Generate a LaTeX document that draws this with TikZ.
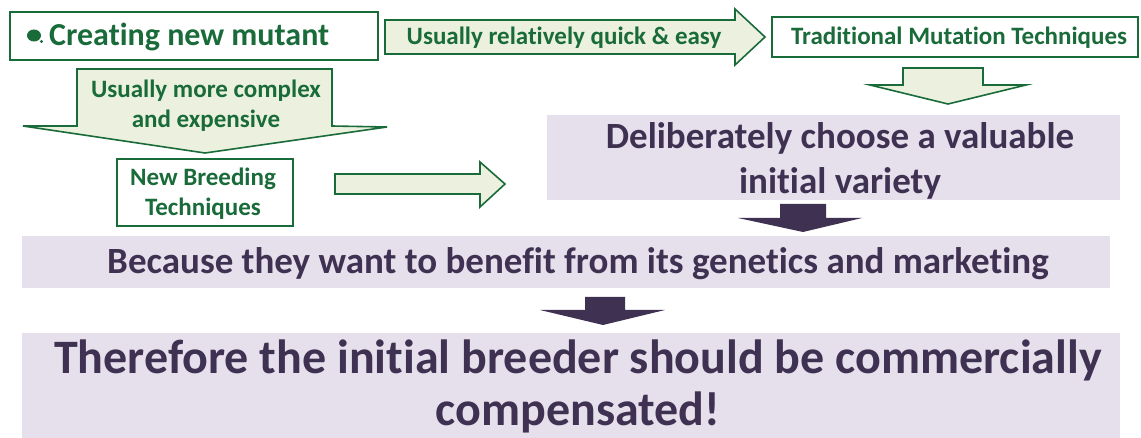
\documentclass[tikz,border=0pt]{standalone}
\usepackage{fontspec}
\setmainfont{Carlito}[Ligatures=NoCommon]
\definecolor{grn}{HTML}{1A6B3A}
\definecolor{lgrn}{HTML}{EBF1DE}
\definecolor{lav}{HTML}{E5E0EC}
\definecolor{dpur}{HTML}{3F3151}
\begin{document}
\begin{tikzpicture}[x=1pt,y=-1pt,
  gbox/.style={draw=grn,line width=1.3pt,fill=white},
  garrow/.style={draw=grn,line width=1.6pt,fill=lgrn,line join=miter},
  parrow/.style={fill=dpur},
  gtxt/.style={text=grn,font=\bfseries\fontsize{25}{30}\selectfont,align=center,inner sep=0pt},
  ptxt/.style={text=dpur,font=\bfseries,align=center,inner sep=0pt}]
\useasboundingbox (0,0) rectangle (1141,438);
% top-left box
\draw[gbox] (10,12) rectangle (378,60);
\fill[grn] (34,35.5) ellipse (7 and 6);
\fill[grn] (41.5,41.5) circle (1.7);
\node[gtxt,anchor=west,font=\bfseries\fontsize{32}{34}\selectfont] (cnm) at (49,37) {Creating new mutant};
% right arrow quick & easy
\draw[garrow] (385,20) -- (735,20) -- (735,9) -- (765,37) -- (735,65) -- (735,54) -- (385,54) -- cycle;
\node[gtxt] (qe) at (564,38) {Usually relatively quick \& easy};
% Traditional box
\draw[gbox] (772,17) rectangle (1138,57);
\node[gtxt] (tmt) at (959,38) {Traditional Mutation Techniques};
% small down arrow
\draw[garrow] (903,68) -- (983,68) -- (983,85) -- (1026,85) -- (948,104) -- (870,85) -- (903,85) -- cycle;
% big down arrow
\draw[garrow] (77,69) -- (332,69) -- (332,126) -- (387,127) -- (205,153) -- (23,126) -- (77,126) -- cycle;
\node[gtxt] (cx) at (206,106) {Usually more complex\\and expensive};
% NBT box
\draw[gbox] (117,159) rectangle (293,226);
\node[gtxt] (nbt) at (203,194) {New Breeding\\Techniques};
% empty right arrow
\draw[garrow] (335,174) -- (480,174) -- (480,162) -- (505,184) -- (480,207) -- (480,194) -- (335,194) -- cycle;
% Deliberately box
\fill[lav] (547,115) rectangle (1120,200);
\node[ptxt,font=\bfseries\fontsize{37}{45}\selectfont] (del) at (840,161) {Deliberately choose a valuable\\initial variety};
% arrow
\fill[parrow] (780,204) -- (826,204) -- (826,218) -- (862,218) -- (803,232) -- (738,218) -- (780,218) -- cycle;
% Because band
\fill[lav] (22,236) rectangle (1110,288);
\node[ptxt,font=\bfseries\fontsize{37}{40}\selectfont] (bec) at (578,264) {Because they want to benefit from its genetics and marketing};
% arrow
\fill[parrow] (585,297) -- (625,297) -- (625,310) -- (665,310) -- (603,325) -- (540,310) -- (585,310) -- cycle;
% Therefore box
\fill[lav] (22,333) rectangle (1120,438);
\node[ptxt,font=\bfseries\fontsize{48}{52}\selectfont] (thr) at (578,386) {Therefore the initial breeder should be commercially\\compensated!};
\end{tikzpicture}
\end{document}
